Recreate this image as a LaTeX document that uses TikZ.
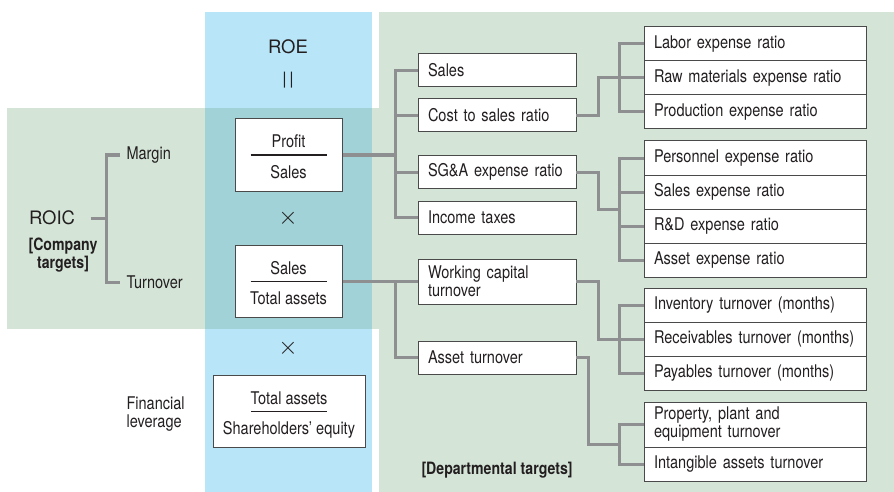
\documentclass[tikz,border=0pt]{standalone}
\usepackage{fontspec}
\setmainfont{TeX Gyre Heros}[FakeStretch=0.83]
\newfontfamily\widefont{TeX Gyre Heros}
\usepackage{tikz}
\usetikzlibrary{positioning}

\definecolor{roeblue}{HTML}{B8E5F8}
\definecolor{tgtgreen}{HTML}{D4E4D7}
\definecolor{overlap}{HTML}{A0D2D7}
\definecolor{linkgray}{HTML}{8D8F91}
\definecolor{edge}{HTML}{4A4A4A}
\definecolor{ink}{HTML}{231F20}

\begin{document}
\begin{tikzpicture}[x=1pt, y=-1pt,
    every node/.style={text=ink, font=\fontsize{17.5}{18}\selectfont},
    box/.style={draw=edge, fill=white, line width=1pt, outer sep=0pt, inner xsep=10pt, inner ysep=0pt,
        text width=138pt, minimum height=33pt, align=left, anchor=west},
    subbox/.style={box, text width=202pt, minimum height=34pt},
    fracbox/.style={draw=edge, fill=white, line width=1pt, minimum width=107pt, minimum height=72pt},
    fracline/.style={draw=ink, line width=1pt},
    link/.style={draw=linkgray, line width=3pt},
    tag/.style={font=\bfseries\fontsize{17}{16}\selectfont, align=center}]
    \useasboundingbox (0,0) rectangle (894,492);

    % Background panels
    \fill[roeblue] (205,12) rectangle (372,492);
    \fill[tgtgreen] (7,108) rectangle (379,329);
    \fill[tgtgreen] (379,12) rectangle (894,492);
    \fill[overlap] (205,108) rectangle (372,329);

    % ROE column
    \node[font=\widefont\fontsize{18.5}{18.5}\selectfont] (roe) at (288,47) {ROE};
    \node[font=\widefont\fontsize{17}{17}\selectfont] (eq) at (288,80) {|\kern2.5pt|};
    \node[fracbox] (pbox) at (288.5,155) {};
    \node[anchor=base] (pnum) at ([yshift=7pt]pbox.center) {Profit};
    \node[anchor=base] (pden) at ([yshift=-23pt]pbox.center) {Sales};
    \draw[fracline] ([xshift=-38pt]pbox.center) -- ([xshift=38pt]pbox.center);
    \node[font=\Huge] (x1) at (288,218) {$\times$};
    \node[fracbox] (sbox) at (288.5,281) {};
    \node[anchor=base] (snum) at ([yshift=7pt]sbox.center) {Sales};
    \node[anchor=base] (sden) at ([yshift=-23pt]sbox.center) {Total assets};
    \draw[fracline] ([xshift=-38pt]sbox.center) -- ([xshift=38pt]sbox.center);
    \node[font=\Huge] (x2) at (288,348) {$\times$};
    \node[fracbox, minimum width=152pt] (lbox) at (289,411) {};
    \node[anchor=base] (lnum) at ([yshift=7pt]lbox.center) {Total assets};
    \node[anchor=base] (lden) at ([yshift=-23pt]lbox.center) {Shareholders’ equity};
    \draw[fracline] ([xshift=-38pt]lbox.center) -- ([xshift=38pt]lbox.center);
    \node[anchor=west, align=left] (lev) at (123,414) {Financial\\leverage};

    % Company targets (ROIC)
    \node[font=\widefont\fontsize{18.5}{18.5}\selectfont] (roic) at (52,218) {ROIC};
    \node[tag] (company) at (63,255) {[Company\\targets]};
    \node[anchor=west] (margin) at (123,155) {Margin};
    \node[anchor=west] (turnover) at (123,282) {Turnover};
    \draw[link] ([xshift=-3pt]margin.west) -- ++(-14,0) |- ([xshift=-3pt]turnover.west);
    \draw[link] ([xshift=12pt]roic.east) -- ++(15,0);

    % Second level
    \node[box] (sales) at (418,70.5) {Sales};
    \node[box] (cost) at (418,115.5) {Cost to sales ratio};
    \node[box] (sga) at (418,172) {SG\&A expense ratio};
    \node[box] (taxes) at (418,217.5) {Income taxes};
    \node[box, minimum height=45pt] (wcap) at (418,281.5) {Working capital\\turnover};
    \node[box] (asset) at (418,357.5) {Asset turnover};
    \coordinate (trunkA) at ([xshift=-23pt]sales.west);

    % Third level
    \node[subbox] (labor) at (644,44) {Labor expense ratio};
    \node[subbox, below=0pt of labor] (raw) {Raw materials expense ratio};
    \node[subbox, below=0pt of raw] (prod) {Production expense ratio};
    \node[subbox] (pers) at (644,158) {Personnel expense ratio};
    \node[subbox, below=0pt of pers] (sexp) {Sales expense ratio};
    \node[subbox, below=0pt of sexp] (rnd) {R\&D expense ratio};
    \node[subbox, below=0pt of rnd] (aexp) {Asset expense ratio};
    \node[subbox] (inv) at (644,305) {Inventory turnover (months)};
    \node[subbox, below=0pt of inv] (recv) {Receivables turnover (months)};
    \node[subbox, below=0pt of recv] (pay) {Payables turnover (months)};
    \node[subbox, minimum height=45pt] (ppe) at (644,424.5) {Property, plant and\\equipment turnover};
    \node[subbox, below=0pt of ppe] (intang) {Intangible assets turnover};
    \node[tag, anchor=west] (dept) at (418,470) {[Departmental targets]};

    % Links to second level
    \draw[link] (pbox.east) -- (pbox.east -| trunkA);
    \draw[link] (sales.west) -- (trunkA) |- (taxes.west);
    \draw[link] (cost.west) -- (cost.west -| trunkA);
    \draw[link] (sga.west) -- (sga.west -| trunkA);
    \draw[link] (sbox.east) -- (sbox.east -| wcap.west);
    \draw[link] (wcap.west) -- (wcap.west -| trunkA) |- (asset.west);

    % Links to third level
    \draw[link] (cost.east) -- ++(22,0) |- (raw.west);
    \draw[link] (labor.west) -- ++(-25,0) |- (prod.west);
    \draw[link] (sga.east) -- ++(22,0) |- ([xshift=-25pt]sexp.south west);
    \draw[link] (pers.west) -- ++(-25,0) |- (aexp.west);
    \draw[link] (sexp.west) -- ++(-25,0);
    \draw[link] (rnd.west) -- ++(-25,0);
    \draw[link] (wcap.east) -- ++(22,0) |- (recv.west);
    \draw[link] (inv.west) -- ++(-25,0) |- (pay.west);
    \draw[link] (asset.east) -- ++(12,0) |- ([xshift=-25pt,yshift=3pt]ppe.south west);
    \draw[link] (ppe.west) -- ++(-25,0) |- (intang.west);
\end{tikzpicture}
\end{document}
